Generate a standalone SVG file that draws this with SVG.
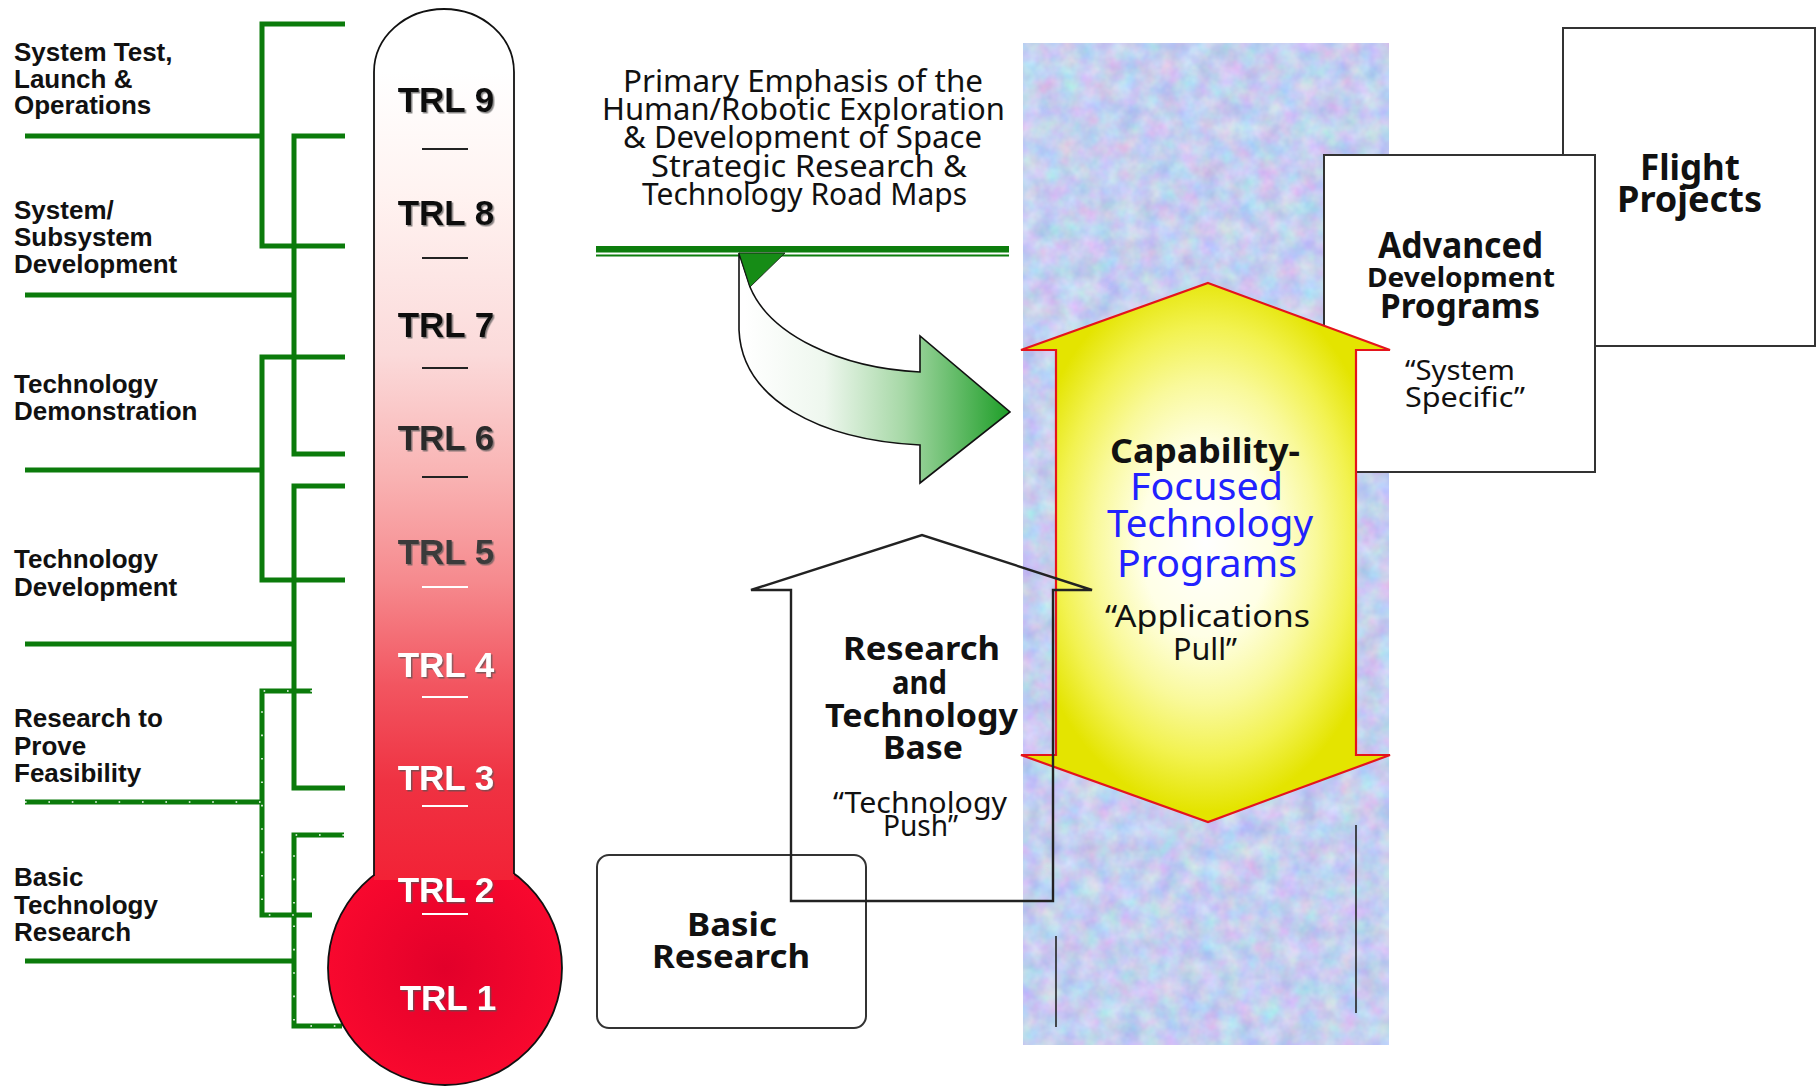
<svg xmlns="http://www.w3.org/2000/svg" width="1816" height="1086" viewBox="0 0 1816 1086">
  <defs>
    <style>
      .lbl { font-family: "Liberation Sans", Arial, sans-serif; font-weight: bold; font-size: 26px; fill: #111; }
      .trl { font-family: "Liberation Sans", Arial, sans-serif; font-weight: bold; font-size: 35px; text-anchor: middle; }
      .cs { font-family: "Comic Sans MS", "Noto Sans", sans-serif; fill: #111; }
      .csb { font-family: "Comic Sans MS", "Noto Sans", sans-serif; font-weight: bold; fill: #111; }
      .blue { fill: #2222ff; }
      .gl { fill: none; stroke: #0b7b0b; stroke-width: 5; stroke-linejoin: miter; }
      .dots { fill: none; stroke: #ffffff; stroke-width: 1.6; stroke-dasharray: 1.6 21.8; }
      .box { fill: #ffffff; stroke: #333; stroke-width: 2; }
      .sepd { stroke: #222; stroke-width: 1.8; }
      .sepw { stroke: #fff; stroke-width: 1.8; }
    </style>
    <!-- mottled pastel texture for the central band -->
    <filter id="mottle" x="0" y="0" width="1" height="1" filterUnits="objectBoundingBox" color-interpolation-filters="sRGB">
      <feTurbulence type="fractalNoise" baseFrequency="0.05" numOctaves="3" seed="7"/>
      <feColorMatrix type="matrix" values="0.3 0 0 0 0.62  0 0.26 0 0 0.68  0 0 0.14 0 0.87  0 0 0 0 1"/>
    </filter>
    <filter id="tsh" x="-10%" y="-30%" width="130%" height="160%">
      <feDropShadow dx="1.5" dy="1.5" stdDeviation="0.6" flood-color="#555" flood-opacity="0.7"/>
    </filter>
    <linearGradient id="tube" gradientUnits="userSpaceOnUse" x1="0" y1="72" x2="0" y2="880">
      <stop offset="0" stop-color="#ffffff"/>
      <stop offset="0.15" stop-color="#fff3f1"/>
      <stop offset="0.35" stop-color="#fbdada"/>
      <stop offset="0.5" stop-color="#f9b3b3"/>
      <stop offset="0.63" stop-color="#f68a8e"/>
      <stop offset="0.76" stop-color="#f25560"/>
      <stop offset="0.88" stop-color="#ef3242"/>
      <stop offset="1" stop-color="#f22236"/>
    </linearGradient>
    <radialGradient id="bulb" cx="0.5" cy="0.5" r="0.5">
      <stop offset="0" stop-color="#e2002a"/>
      <stop offset="1" stop-color="#f8082e"/>
    </radialGradient>
    <radialGradient id="yel" cx="0.5" cy="0.48" r="0.5">
      <stop offset="0" stop-color="#ffffff"/>
      <stop offset="0.35" stop-color="#ffffe6"/>
      <stop offset="0.6" stop-color="#f9f99a"/>
      <stop offset="0.8" stop-color="#f2f250"/>
      <stop offset="1" stop-color="#e4e400"/>
    </radialGradient>
    <linearGradient id="garrow" gradientUnits="userSpaceOnUse" x1="745" y1="0" x2="1010" y2="0">
      <stop offset="0" stop-color="#ffffff"/>
      <stop offset="0.3" stop-color="#eef7ee"/>
      <stop offset="0.6" stop-color="#a6d8a6"/>
      <stop offset="1" stop-color="#1e9e28"/>
    </linearGradient>
  </defs>

  <rect width="1816" height="1086" fill="#ffffff"/>

  <!-- central textured band -->
  <g id="band">
    <rect x="1023" y="43" width="366" height="1002" fill="#c3cfee"/>
    <rect x="1023" y="43" width="366" height="1002" filter="url(#mottle)"/>
  </g>

  <!-- Flight Projects -->
  <g id="flight-projects">
    <rect class="box" x="1563" y="28" width="252" height="318"/>
    <text class="csb" font-size="36" x="1640" y="180" textLength="100" lengthAdjust="spacingAndGlyphs">Flight</text>
    <text class="csb" font-size="36" x="1617" y="212" textLength="145" lengthAdjust="spacingAndGlyphs">Projects</text>
  </g>

  <!-- Advanced Development Programs -->
  <g id="advanced-development">
    <rect class="box" x="1324" y="155" width="271" height="317"/>
    <text class="csb" font-size="36" x="1378" y="258" textLength="165" lengthAdjust="spacingAndGlyphs">Advanced</text>
    <text class="csb" font-size="27" x="1367" y="287" textLength="188" lengthAdjust="spacingAndGlyphs">Development</text>
    <text class="csb" font-size="34" x="1380" y="318" textLength="160" lengthAdjust="spacingAndGlyphs">Programs</text>
    <text class="cs" font-size="27" x="1405" y="380" textLength="110" lengthAdjust="spacingAndGlyphs">“System</text>
    <text class="cs" font-size="27" x="1405" y="407" textLength="120" lengthAdjust="spacingAndGlyphs">Specific”</text>
  </g>

  <!-- Capability-Focused Technology Programs (double-headed arrow) -->
  <g id="capability-focused">
    <path d="M1208 283 L1390 350 H1356 V755 H1390 L1208 822 L1021 755 H1056 V350 H1021 Z" fill="url(#yel)" stroke="#e4141c" stroke-width="2.2" stroke-linejoin="miter"/>
    <text class="csb" font-size="34" x="1110" y="463" textLength="190" lengthAdjust="spacingAndGlyphs">Capability-</text>
    <text class="cs blue" font-size="38" x="1130" y="500" textLength="153" lengthAdjust="spacingAndGlyphs">Focused</text>
    <text class="cs blue" font-size="38" x="1107" y="537" textLength="206" lengthAdjust="spacingAndGlyphs">Technology</text>
    <text class="cs blue" font-size="38" x="1117" y="577" textLength="180" lengthAdjust="spacingAndGlyphs">Programs</text>
    <text class="cs" font-size="30" x="1105" y="627" textLength="205" lengthAdjust="spacingAndGlyphs">“Applications</text>
    <text class="cs" font-size="30" x="1173" y="660" textLength="64" lengthAdjust="spacingAndGlyphs">Pull”</text>
  </g>

  <!-- thin rules inside the band -->
  <g id="band-rules" stroke="#222" stroke-width="1.6">
    <line x1="1056" y1="936" x2="1056" y2="1027"/>
    <line x1="1356" y1="825" x2="1356" y2="1013"/>
  </g>

  <!-- Basic Research -->
  <g id="basic-research">
    <rect x="597" y="855" width="269" height="173" rx="12" fill="none" stroke="#333" stroke-width="2"/>
    <text class="csb" font-size="33" x="687" y="936" textLength="90" lengthAdjust="spacingAndGlyphs">Basic</text>
    <text class="csb" font-size="33" x="652" y="968" textLength="158" lengthAdjust="spacingAndGlyphs">Research</text>
  </g>

  <!-- Research and Technology Base (outline arrow) -->
  <g id="rt-base">
    <path d="M791 901 V590 H751 L922 535 L1092 590 H1053 V901 Z" fill="none" stroke="#222" stroke-width="2.4" stroke-linejoin="miter"/>
    <text class="csb" font-size="32" x="843" y="660" textLength="157" lengthAdjust="spacingAndGlyphs">Research</text>
    <text class="csb" font-size="32" x="892" y="694" textLength="55" lengthAdjust="spacingAndGlyphs">and</text>
    <text class="csb" font-size="32" x="825" y="727" textLength="193" lengthAdjust="spacingAndGlyphs">Technology</text>
    <text class="csb" font-size="32" x="883" y="759" textLength="80" lengthAdjust="spacingAndGlyphs">Base</text>
    <text class="cs" font-size="29" x="833" y="813" textLength="174" lengthAdjust="spacingAndGlyphs">“Technology</text>
    <text class="cs" font-size="29" x="883" y="836" textLength="75" lengthAdjust="spacingAndGlyphs">Push”</text>
  </g>

  <!-- Strategic road maps heading with curved arrow -->
  <g id="road-maps">
    <text class="cs" font-size="30" x="623" y="92" textLength="360" lengthAdjust="spacingAndGlyphs">Primary Emphasis of the</text>
    <text class="cs" font-size="30" x="602" y="120" textLength="403" lengthAdjust="spacingAndGlyphs">Human/Robotic Exploration</text>
    <text class="cs" font-size="30" x="623" y="148" textLength="359" lengthAdjust="spacingAndGlyphs">&amp; Development of Space</text>
    <text class="cs" font-size="30" x="651" y="177" textLength="316" lengthAdjust="spacingAndGlyphs">Strategic Research &amp;</text>
    <text class="cs" font-size="30" x="642" y="205" textLength="325" lengthAdjust="spacingAndGlyphs">Technology Road Maps</text>
    <rect x="596" y="246" width="413" height="6.5" fill="#0d7d0d"/>
    <rect x="596" y="254.5" width="413" height="2" fill="#0d7d0d"/>
  </g>

  <g id="connectors">
    <!-- curved arrow from the road maps into the focused programs -->
    <path d="M739 253 L739 330 C742 400 820 440 920 445 L920 483 L1010 412 L920 336 L920 372 C840 368 770 335 750 287 Z" fill="url(#garrow)" stroke="#111" stroke-width="1.6" stroke-linejoin="miter"/>
    <path d="M739 253 L785 253 L750 287 Z" fill="#168c16" stroke="#111" stroke-width="0.8"/>

    <!-- green brackets linking the phase labels to the TRL scale -->
    <path class="gl" d="M345 24 H262 V246 H345"/>
    <path class="gl" d="M25 136 H262"/>
    <path class="gl" d="M345 136 H294 V454 H345"/>
    <path class="gl" d="M25 295 H294"/>
    <path class="gl" d="M345 357 H262 V580 H345"/>
    <path class="gl" d="M25 470 H262"/>
    <path class="gl" d="M345 486 H294 V788 H345"/>
    <path class="gl" d="M25 644 H294"/>
    <path class="gl" d="M312 691 H262 V915 H312"/>
    <path class="gl" d="M25 802 H262"/>
    <path class="gl" d="M344 835 H294 V1026 H342"/>
    <path class="gl" d="M25 961 H294"/>
    <path class="dots" d="M312 691 H262 V915 H312"/>
    <path class="dots" d="M25 802 H262"/>
    <path class="dots" d="M344 835 H294 V1026 H342"/>
  </g>

  <!-- thermometer of technology readiness levels -->
  <g id="thermometer">
    <circle cx="445" cy="968" r="117" fill="url(#bulb)" stroke="#111" stroke-width="1.8"/>
    <path d="M374 880 L374 72 A70 63 0 0 1 514 72 L514 880 Z" fill="url(#tube)"/>
    <path d="M374 876 L374 72 A70 63 0 0 1 514 72 L514 874" fill="none" stroke="#111" stroke-width="1.8"/>
    <line class="sepd" x1="422" y1="149" x2="468" y2="149"/>
    <line class="sepd" x1="422" y1="258" x2="468" y2="258"/>
    <line class="sepd" x1="422" y1="368" x2="468" y2="368"/>
    <line class="sepd" x1="422" y1="477" x2="468" y2="477"/>
    <line class="sepw" x1="422" y1="587" x2="468" y2="587"/>
    <line class="sepw" x1="422" y1="697" x2="468" y2="697"/>
    <line class="sepw" x1="422" y1="806" x2="468" y2="806"/>
    <line class="sepw" x1="422" y1="914" x2="468" y2="914"/>
    <g filter="url(#tsh)">
      <text class="trl" x="446" y="112" fill="#111">TRL 9</text>
      <text class="trl" x="446" y="225" fill="#111">TRL 8</text>
      <text class="trl" x="446" y="337" fill="#111">TRL 7</text>
      <text class="trl" x="446" y="450" fill="#2a2a2a">TRL 6</text>
      <text class="trl" x="446" y="564" fill="#3a3a3a">TRL 5</text>
      <text class="trl" x="446" y="677" fill="#ffffff">TRL 4</text>
      <text class="trl" x="446" y="790" fill="#ffffff">TRL 3</text>
      <text class="trl" x="446" y="902" fill="#ffffff">TRL 2</text>
      <text class="trl" x="448" y="1010" fill="#ffffff">TRL 1</text>
    </g>
  </g>

  <!-- phase labels -->
  <g id="phase-labels">
    <text class="lbl" x="14" y="61">System Test,</text>
    <text class="lbl" x="14" y="88">Launch &amp;</text>
    <text class="lbl" x="14" y="114">Operations</text>
    <text class="lbl" x="14" y="219">System/</text>
    <text class="lbl" x="14" y="246">Subsystem</text>
    <text class="lbl" x="14" y="273">Development</text>
    <text class="lbl" x="14" y="393">Technology</text>
    <text class="lbl" x="14" y="420">Demonstration</text>
    <text class="lbl" x="14" y="568">Technology</text>
    <text class="lbl" x="14" y="596">Development</text>
    <text class="lbl" x="14" y="727">Research to</text>
    <text class="lbl" x="14" y="755">Prove</text>
    <text class="lbl" x="14" y="782">Feasibility</text>
    <text class="lbl" x="14" y="886">Basic</text>
    <text class="lbl" x="14" y="914">Technology</text>
    <text class="lbl" x="14" y="941">Research</text>
  </g>
</svg>
